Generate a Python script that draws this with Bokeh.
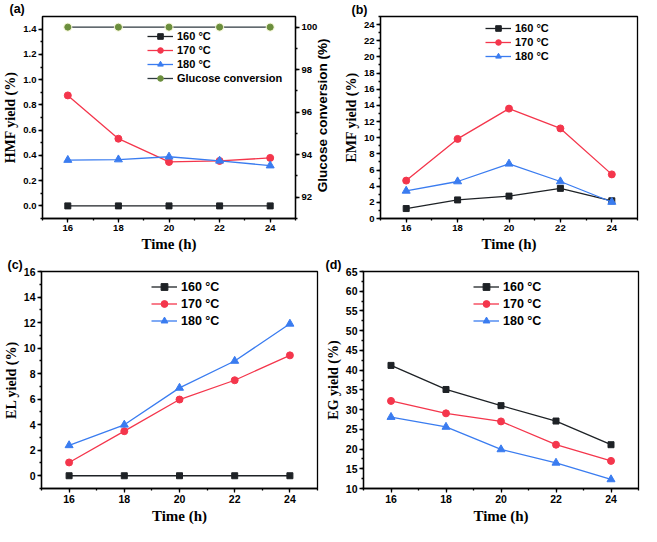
import math
from bokeh.plotting import figure
from bokeh.models import (Range1d, LinearAxis, SingleIntervalTicker, PrintfTickFormatter,
                          Legend, LegendItem, Title)
from bokeh.layouts import column, row
from bokeh.embed import file_html
from bokeh.resources import INLINE

# ---------------- data ----------------
hours = [16, 18, 20, 22, 24]
series_labels = ["160 °C", "170 °C", "180 °C"]

hmf_160 = [0.0, 0.0, 0.0, 0.0, 0.0]
hmf_170 = [0.875, 0.532, 0.348, 0.356, 0.38]
hmf_180 = [0.363, 0.367, 0.389, 0.357, 0.319]
glucose_conv = [100, 100, 100, 100, 100]

emf_160 = [1.23, 2.3, 2.77, 3.73, 2.19]
emf_170 = [4.69, 9.85, 13.6, 11.15, 5.46]
emf_180 = [3.42, 4.58, 6.77, 4.58, 2.04]

el_160 = [0.0, 0.0, 0.0, 0.0, 0.0]
el_170 = [1.04, 3.49, 5.97, 7.48, 9.43]
el_180 = [2.38, 3.99, 6.88, 8.99, 11.9]

eg_160 = [41.2, 35.1, 31.0, 27.1, 21.1]
eg_170 = [32.2, 29.05, 27.0, 21.1, 17.0]
eg_180 = [28.1, 25.6, 19.9, 16.5, 12.3]

# ---------------- style ----------------
C_BLACK = "#1e2226"
C_RED = "#f4364c"
C_BLUE = "#3a7cf0"
C_GLU_LINE = "#2f3a40"
C_GLU_MARK = "#6b8e3d"
C_GLU_HALO = "#f1f3d0"
SANS = "Liberation Sans"
SERIF = "Liberation Serif"


def style_axis(ax, tick_font, label_font, label_family=SERIF):
    ax.axis_line_color = "black"
    ax.axis_line_width = 1.3
    ax.major_tick_line_color = "black"
    ax.major_tick_line_width = 1.3
    ax.minor_tick_line_color = "black"
    ax.minor_tick_line_width = 1.3
    ax.major_tick_in = 0
    ax.major_tick_out = 4
    ax.minor_tick_in = 0
    ax.minor_tick_out = 2
    ax.major_label_text_font = SANS
    ax.major_label_text_font_style = "bold"
    ax.major_label_text_font_size = tick_font
    ax.major_label_text_color = "black"
    ax.major_label_standoff = 2
    ax.axis_label_text_font = label_family
    ax.axis_label_text_font_style = "bold"
    ax.axis_label_text_font_size = label_font
    ax.axis_label_text_color = "black"
    ax.axis_label_standoff = 2


def make_fig(width, height, yr, ytick, yminor, yfmt, borders, tick_font, ylabel, tag, tag_off, tag_valign):
    l, r, t, b = borders
    title = Title(text=tag, align="left", offset=tag_off, standoff=0,
                  text_font=SANS, text_font_style="bold", text_font_size="12.5px",
                  text_color="black", vertical_align=tag_valign)
    p = figure(width=width, height=height, x_range=Range1d(15, 25), y_range=Range1d(*yr),
               output_backend="svg", toolbar_location=None, title=title,
               min_border_left=l, min_border_right=r, min_border_top=t, min_border_bottom=b)
    p.grid.visible = False
    p.outline_line_color = "black"
    p.outline_line_width = 1.3
    p.outline_line_alpha = 1
    p.xaxis.ticker = SingleIntervalTicker(interval=2, num_minor_ticks=2)
    p.yaxis.ticker = SingleIntervalTicker(interval=ytick, num_minor_ticks=yminor)
    p.yaxis.formatter = PrintfTickFormatter(format=yfmt)
    p.xaxis.axis_label = "Time (h)"
    p.yaxis.axis_label = ylabel
    style_axis(p.xaxis[0], tick_font, "15px")
    style_axis(p.yaxis[0], tick_font, "14px")
    p.xaxis[0].axis_label_standoff = 2
    return p


def add_series(p, ys_list, colors):
    items = []
    markers = ["square", "circle", "triangle"]
    sizes = [6, 7, 8]
    for ys, c, m, s, lab in zip(ys_list, colors, markers, sizes, series_labels):
        lr = p.line(hours, ys, line_color=c, line_width=1.3)
        sr = p.scatter(hours, ys, marker=m, size=s, fill_color=c, line_color=c)
        items.append(LegendItem(label=lab, renderers=[lr, sr]))
    return items


def add_legend(p, items, loc, font, row_h):
    leg = Legend(items=items, location=loc, border_line_color=None, background_fill_alpha=0,
                 label_text_font=SANS, label_text_font_style="bold", label_text_font_size=font,
                 label_text_color="black", glyph_width=26, glyph_height=row_h, label_height=row_h,
                 spacing=0, padding=0, margin=0, label_standoff=4)
    p.add_layout(leg)


colors = [C_BLACK, C_RED, C_BLUE]

# ---------------- (a) ----------------
pa = make_fig(340, 254, (-0.1, 1.5), 0.2, 2, "%.1f", (36, 40, 12, 33), "9.5px",
              "HMF yield (%)", "(a)", -33, "middle")
pa.extra_y_ranges = {"gc": Range1d(91, 100.5)}
ax_r = LinearAxis(y_range_name="gc", axis_label="Glucose conversion (%)",
                  ticker=SingleIntervalTicker(interval=2, num_minor_ticks=2))
style_axis(ax_r, "9.5px", "13.5px", label_family=SANS)
try:
    ax_r.axis_label_align = "start"
    ax_r.axis_label = "\u00a0" * 7 + "Glucose conversion (%)"
    ax_r.axis_label_orientation = math.pi / 2
except Exception:
    ax_r.axis_label = "Glucose conversion (%)"
    ax_r.axis_label_orientation = "parallel"
pa.add_layout(ax_r, "right")
items_a = add_series(pa, [hmf_160, hmf_170, hmf_180], colors)
gl = pa.line(hours, glucose_conv, y_range_name="gc", line_color=C_GLU_LINE, line_width=1.3)
gh = pa.scatter(hours, glucose_conv, y_range_name="gc", marker="circle", size=9,
                fill_color=C_GLU_HALO, line_color=None, fill_alpha=0.9)
gm = pa.scatter(hours, glucose_conv, y_range_name="gc", marker="circle", size=6,
                fill_color=C_GLU_MARK, line_color=C_GLU_MARK)
items_a.append(LegendItem(label="Glucose conversion", renderers=[gl, gh, gm]))
add_legend(pa, items_a, (105, 133), "11px", 14)

# ---------------- (b) ----------------
pb = make_fig(301, 254, (0, 25), 2, 2, "%d", (30, 4, 13, 32), "9.5px",
              "EMF yield (%)", "(b)", -29, "bottom")
items_b = add_series(pb, [emf_160, emf_170, emf_180], colors)
add_legend(pb, items_b, (105, 155), "11px", 14)

# ---------------- (c) ----------------
pc = make_fig(322, 272, (-1, 16), 2, 2, "%d", (36, 5, 16, 34), "10.5px",
              "EL yield (%)", "(c)", -34, "bottom")
items_c = add_series(pc, [el_160, el_170, el_180], colors)
add_legend(pc, items_c, (110, 159), "12.5px", 17)

# ---------------- (d) ----------------
pd_ = make_fig(319, 272, (10, 65), 5, 2, "%d", (38, 3, 17, 32), "10.5px",
               "EG yield (%)", "(d)", -38, "bottom")
items_d = add_series(pd_, [eg_160, eg_170, eg_180], colors)
add_legend(pd_, items_d, (110, 159), "12.5px", 17)

layout = column(row(pa, pb, spacing=0), row(pc, pd_, spacing=0), spacing=0)

open("out.html", "w").write(file_html(layout, INLINE))
